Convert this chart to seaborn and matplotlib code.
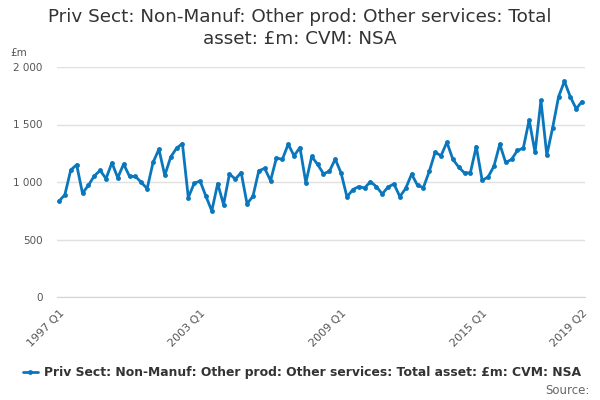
import matplotlib
matplotlib.use("Agg")
import matplotlib.pyplot as plt
import matplotlib.ticker as mticker
import pandas as pd
import seaborn as sns

# quarterly values, 1997 Q1 .. 2019 Q2
values = [
    833, 890, 1104, 1150, 902, 971, 1052, 1101, 1029, 1167,
    1037, 1156, 1049, 1049, 997, 942, 1170, 1285, 1058, 1216,
    1294, 1334, 865, 988, 1009, 876, 749, 986, 804, 1069,
    1026, 1081, 810, 876, 1098, 1118, 1012, 1210, 1196, 1329,
    1228, 1300, 994, 1222, 1153, 1072, 1092, 1199, 1078, 870,
    934, 960, 948, 1003, 960, 896, 957, 983, 873, 945,
    1069, 971, 951, 1092, 1259, 1228, 1346, 1199, 1130, 1078,
    1081, 1308, 1014, 1043, 1136, 1329, 1170, 1196, 1274, 1294,
    1539, 1257, 1709, 1234, 1473, 1741, 1876, 1741, 1637, 1700,
]
quarters = [f"{y} Q{q}" for y in range(1997, 2020) for q in range(1, 5)][:len(values)]
series_name = "Priv Sect: Non-Manuf: Other prod: Other services: Total asset: £m: CVM: NSA"
title = "Priv Sect: Non-Manuf: Other prod: Other services: Total\nasset: £m: CVM: NSA"
label_quarters = ["1997 Q1", "2003 Q1", "2009 Q1", "2015 Q1", "2019 Q2"]

df = pd.DataFrame({"quarter": quarters, "value": values})
df["pos"] = range(len(df))

sns.set_style("white")
plt.rcParams["font.family"] = ["DejaVu Sans"]

fig = plt.figure(figsize=(6, 4), dpi=100)
ax = fig.add_axes([0.095, 0.2575, 0.88, 0.575])

sns.lineplot(data=df, x="pos", y="value", ax=ax, color="#0a77bd", linewidth=2,
             marker="o", markersize=3.5, markeredgewidth=0, label=series_name)

ax.set_ylim(0, 2000)
ax.set_xlim(-0.34, 89.5)
ax.set_yticks([0, 500, 1000, 1500, 2000])
ax.yaxis.set_major_formatter(mticker.FuncFormatter(lambda v, p: f"{int(v):,}".replace(",", " ")))
ax.grid(axis="y", color="#e0e0e0", linewidth=1)
ax.set_axisbelow(True)

tick_pos = list(range(0, 85, 6)) + [89]
ax.set_xticks(tick_pos)
ax.set_xticklabels([quarters[i] if quarters[i] in label_quarters else "" for i in tick_pos],
                   rotation=45, ha="right", rotation_mode="anchor")

for s in ["top", "right", "left"]:
    ax.spines[s].set_visible(False)
ax.spines["bottom"].set_color("#ccd6eb")
ax.tick_params(axis="x", length=6.5, color="#ccd6eb", labelsize=8, labelcolor="#555555", pad=1.5)
ax.tick_params(axis="y", length=0, labelsize=7.5, labelcolor="#555555", pad=10.5)
ax.set_xlabel("")
ax.set_ylabel("")

fig.text(0.018, 0.868, "£m", fontsize=7.5, color="#555555", ha="left", va="center")
fig.suptitle(title, fontsize=13.2, color="#333333", y=0.98, linespacing=1.25)

leg = ax.legend(loc="center", bbox_to_anchor=(0.464, -0.33), frameon=False,
                prop={"weight": "bold", "size": 8.9}, handlelength=1.2, handletextpad=0.5)
for t in leg.get_texts():
    t.set_color("#333333")
fig.text(0.983, 0.025, "Source:", fontsize=8.5, color="#666666", ha="right", va="center")

fig.savefig("out.png", dpi=100)
